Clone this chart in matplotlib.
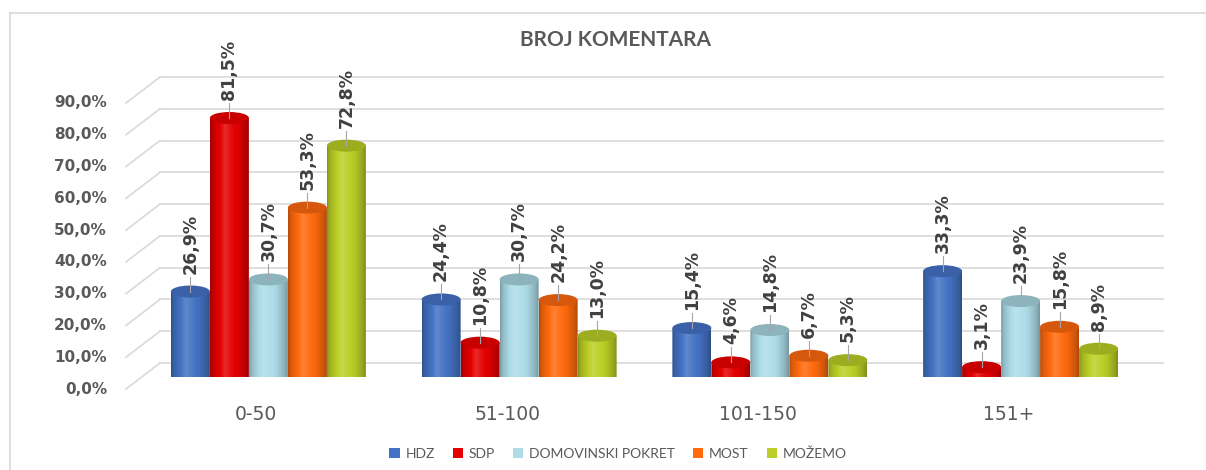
import numpy as np
import matplotlib.pyplot as plt
import matplotlib.colors as mcolors
from matplotlib.path import Path
from matplotlib.patches import Ellipse, PathPatch, Patch
from matplotlib.lines import Line2D

# ---- data -------------------------------------------------------------------
GROUPS = ["0-50", "51-100", "101-150", "151+"]
PARTIES = ["HDZ", "SDP", "DOMOVINSKI POKRET", "MOST", "MOŽEMO"]
HDZ = [26.9, 24.4, 15.4, 33.3]
SDP = [81.5, 10.8, 4.6, 3.1]
DP = [30.7, 30.7, 14.8, 23.9]
MOST = [53.3, 24.2, 6.7, 15.8]
MOZEMO = [72.8, 13.0, 5.3, 8.9]
SERIES = [HDZ, SDP, DP, MOST, MOZEMO]
YTICKS = [0, 10, 20, 30, 40, 50, 60, 70, 80, 90]

# ---- style ------------------------------------------------------------------
COLORS = ["#4472C4", "#E40000", "#ADDCE8", "#FF6A0D", "#BCCF26"]
TOPS = ["#3A60A8", "#C80000", "#8DB3BD", "#D6580C", "#9CAD1F"]
GRID = "#D9D9D9"
TXT = "#595959"
LBL = "#404040"

W_PX, H_PX = 1206, 470
AX_L, AX_B, AX_W, AX_H = 143, 377, 1003, 286   # bar plane (pixels)
XMIN, XMAX, YMAX = -0.5, 3.5, 90
PX_X = (XMAX - XMIN) / AX_W
PX_Y = YMAX / AX_H

fig = plt.figure(figsize=(W_PX / 100, H_PX / 100), dpi=100)
ax = fig.add_axes([AX_L / W_PX, (H_PX - AX_B) / H_PX, AX_W / W_PX, AX_H / H_PX])
ax.set_xlim(XMIN, XMAX); ax.set_ylim(0, YMAX); ax.axis("off")

# chart border (top + left, cropped on the other sides)
fig.add_artist(Line2D([10 / W_PX, 1], [1 - 13 / H_PX] * 2, color=GRID, lw=1.2))
fig.add_artist(Line2D([10 / W_PX] * 2, [0, 1 - 13 / H_PX], color=GRID, lw=1.2))

# back-wall gridlines + slanted floor lines, tick labels at the front
bx, by = 17 * PX_X, 14 * PX_Y
fx, fy = -17 * PX_X, -12 * PX_Y
for t in YTICKS:
    ax.plot([XMIN + bx, XMAX + bx], [t + by, t + by], color=GRID, lw=1.2, zorder=1, clip_on=False)
    ax.plot([XMIN + fx, XMIN + bx], [t + fy, t + by], color=GRID, lw=1.2, zorder=1, clip_on=False)
    ax.text(XMIN + fx - 19 * PX_X, t + fy, f"{t:.1f}%".replace(".", ","), ha="right", va="center",
            fontsize=11, fontweight="bold", color=TXT, family="DejaVu Sans")

# cylinders
w = 39 * PX_X
eh = 12 * PX_Y
prof_x = [0, 0.06, 0.38, 0.72, 0.92, 1]
prof_f = [0.70, 0.84, 1.10, 0.96, 0.80, 0.68]
tt = np.linspace(0, 1, 80)
shade = np.interp(tt, prof_x, prof_f)

def grad(col):
    rgb = np.array(mcolors.to_rgb(col))
    out = []
    for f in shade:
        out.append(rgb * f if f <= 1 else rgb + (1 - rgb) * (f - 1) * 1.6)
    return np.clip(np.array(out), 0, 1)[None, :, :]

th = np.linspace(np.pi, 2 * np.pi, 40)
for j, (vals, col, top) in enumerate(zip(SERIES, COLORS, TOPS)):
    img = grad(col)
    for i, v in enumerate(vals):
        c = i + (j - 2) * w
        x0, x1 = c - w / 2, c + w / 2
        verts = [(c + w / 2 * np.cos(a), eh / 2 * np.sin(a)) for a in th]
        verts += [(x1, v), (x0, v), verts[0]]
        path = Path(verts)
        im = ax.imshow(img, extent=(x0, x1, -eh / 2, v), aspect="auto", zorder=3 + j * 0.01,
                       interpolation="bilinear")
        im.set_clip_path(PathPatch(path, transform=ax.transData))
        ax.add_patch(Ellipse((c, v), w, eh, fc=top, ec="none", zorder=3.005 + j * 0.01, clip_on=False))
        # leader line + value label
        ax.plot([c, c], [v, v + 15 * PX_Y], color="#A6A6A6", lw=0.8, zorder=4, clip_on=False)
        ax.text(c, v + 18 * PX_Y, f"{v:.1f}%".replace(".", ","), rotation=90, ha="center", va="bottom",
                fontsize=12.5, fontweight="bold", color=LBL, family="DejaVu Sans", zorder=5)

ax.set_xlim(XMIN, XMAX); ax.set_ylim(0, YMAX)

# category labels at the front of the floor
for i, g in enumerate(GROUPS):
    ax.text(i - 12 * PX_X, -38 * PX_Y, g, ha="center", va="center", fontsize=13.5, color=TXT,
            family="DejaVu Sans")

fig.text(615 / W_PX, 1 - 40 / H_PX, "BROJ KOMENTARA", ha="center", va="center", fontsize=15,
         color=TXT, family="Lato", fontweight="bold")

handles = [Patch(fc=c, ec="none", label=p) for c, p in zip(COLORS, PARTIES)]
fig.legend(handles=handles, loc="center", bbox_to_anchor=(618 / W_PX, 1 - 454 / H_PX), ncol=5,
           frameon=False, handlelength=0.75, handleheight=0.75, handletextpad=0.4, columnspacing=1.3,
           prop=dict(family="Lato", size=10), labelcolor=TXT)

fig.savefig("out.png", dpi=100)
